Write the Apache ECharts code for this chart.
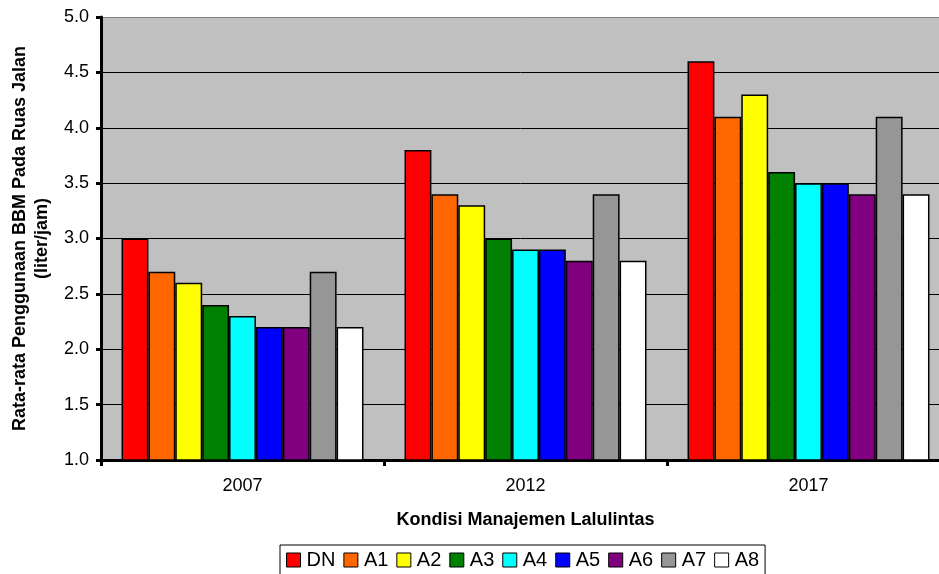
<!DOCTYPE html>
<html>
<head>
<meta charset="utf-8">
<script src="https://cdn.jsdelivr.net/npm/echarts@6/dist/echarts.min.js"></script>
<style>html,body{margin:0;padding:0;background:#fff}#c{width:939px;height:574px}</style>
</head>
<body>
<div id="c"></div>
<script>
const categories = ['2007', '2012', '2017'];
const seriesNames = ['DN', 'A1', 'A2', 'A3', 'A4', 'A5', 'A6', 'A7', 'A8'];
const DN = [3.0, 3.8, 4.6];
const A1 = [2.7, 3.4, 4.1];
const A2 = [2.6, 3.3, 4.3];
const A3 = [2.4, 3.0, 3.6];
const A4 = [2.3, 2.9, 3.5];
const A5 = [2.2, 2.9, 3.5];
const A6 = [2.2, 2.8, 3.4];
const A7 = [2.7, 3.4, 4.1];
const A8 = [2.2, 2.8, 3.4];
const seriesValues = [DN, A1, A2, A3, A4, A5, A6, A7, A8];
const colors = ['#FF0000', '#FF6600', '#FFFF00', '#008000', '#00FFFF', '#0000FF', '#800080', '#969696', '#FFFFFF'];

const font = 'Arial, "Liberation Sans", sans-serif';
const chart = echarts.init(document.getElementById('c'), null, { renderer: 'canvas' });
chart.setOption({
  animation: false,
  backgroundColor: '#ffffff',
  grid: {
    left: 101, top: 17, right: -11, bottom: 114,
    outerBoundsMode: 'none', containLabel: false,
    show: true, backgroundColor: '#C0C0C0', borderWidth: 0
  },
  legend: {
    left: 280, top: 545,
    data: seriesNames,
    itemWidth: 14, itemHeight: 14, itemGap: 8,
    icon: 'rect',
    borderColor: '#000', borderWidth: 1, padding: [5, 6, 8, 6],
    textStyle: { fontFamily: font, fontSize: 20, color: '#000', padding: [0, 0, 0, 1] },
    itemStyle: { borderColor: '#000', borderWidth: 1 }
  },
  xAxis: {
    type: 'category',
    data: categories,
    name: 'Kondisi Manajemen Lalulintas',
    nameLocation: 'middle',
    nameGap: 51,
    nameTextStyle: { fontFamily: font, fontSize: 18, fontWeight: 'bold', color: '#000' },
    axisLine: { lineStyle: { color: '#000', width: 3 } },
    axisTick: { show: true, alignWithLabel: false, length: 6, lineStyle: { color: '#000', width: 3 } },
    axisLabel: { fontFamily: font, fontSize: 18, color: '#000', margin: 17 }
  },
  yAxis: {
    type: 'value',
    min: 1, max: 5, interval: 0.5,
    name: 'Rata-rata Penggunaan BBM Pada Ruas Jalan\n(liter/jam)',
    nameLocation: 'middle',
    nameGap: 48,
    nameTextStyle: { fontFamily: font, fontSize: 18, fontWeight: 'bold', color: '#000', lineHeight: 22 },
    axisLine: { show: true, lineStyle: { color: '#000', width: 3 } },
    axisTick: { show: true, length: 5, lineStyle: { color: '#000', width: 3 } },
    axisLabel: { fontFamily: font, fontSize: 18, color: '#000', margin: 12, formatter: v => v.toFixed(1) },
    splitLine: { show: true, lineStyle: { color: ['#000', '#000', '#000', '#000', '#000', '#000', '#000', '#000', '#808080'], width: 1 } }
  },
  series: seriesNames.map((n, i) => ({
    name: n,
    type: 'bar',
    data: seriesValues[i],
    barGap: '0%',
    barCategoryGap: '14.5%',
    itemStyle: { color: colors[i], borderColor: '#000', borderWidth: 1.5 }
  }))
});
</script>
</body>
</html>
